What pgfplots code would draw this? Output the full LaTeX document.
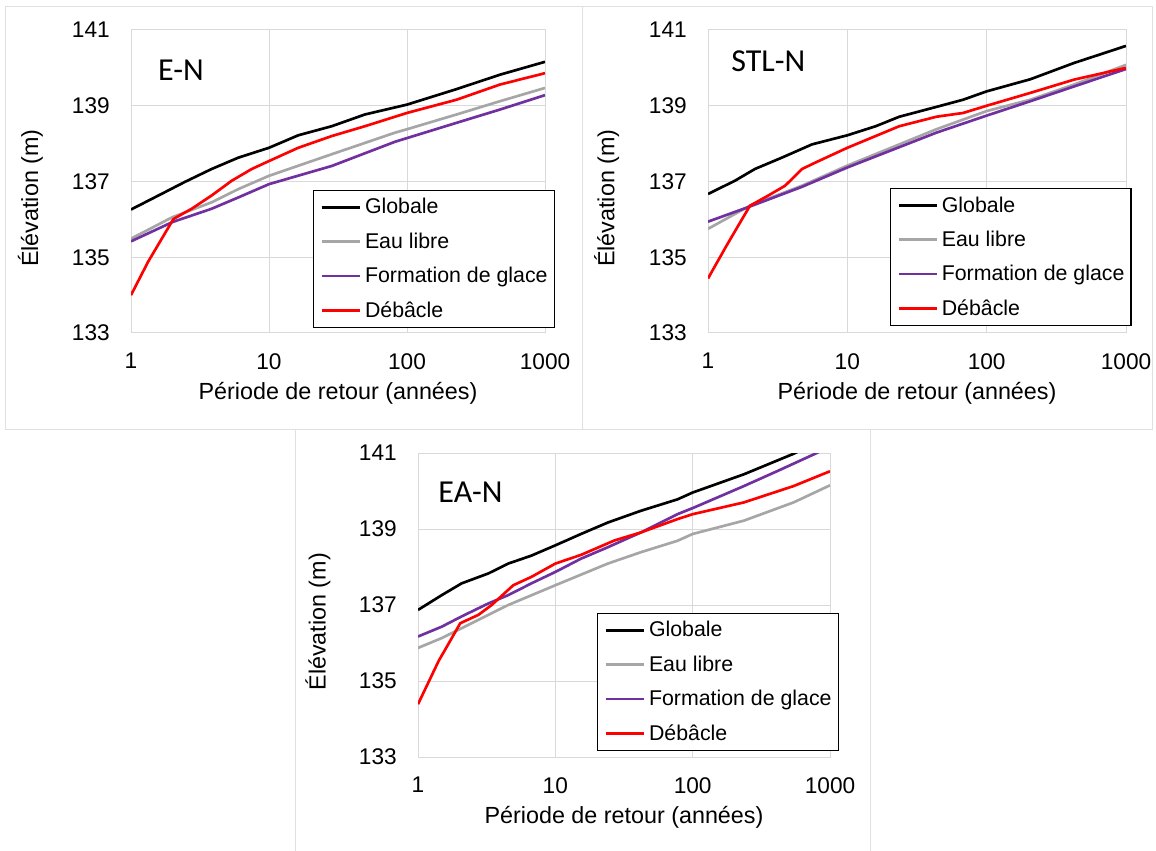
\documentclass[border=0pt]{standalone}
\usepackage{fontspec}
\setmainfont{Liberation Sans}
\newfontfamily\calibri{Carlito}
\usepackage{pgfplots}
\pgfplotsset{compat=1.18}
\definecolor{eaugray}{HTML}{A6A6A6}
\definecolor{glacepurple}{HTML}{7030A0}
\definecolor{gridgray}{HTML}{D9D9D9}
\definecolor{framegray}{HTML}{E0E0E0}

\pgfplotsset{
    scale only axis,
    xmin=1, xmax=1000, ymin=133, ymax=141,
    xtick={1,10,100,1000}, xticklabels={1,10,100,1000},
    ytick={133,135,137,139,141}, yticklabels={133,135,137,139,141},
    minor tick num=0,
    major tick length=0pt, minor tick length=0pt,
    grid=major,
    major grid style={gridgray, line width=0.75pt},
    axis line style={gridgray, line width=0.75pt},
    ticklabel style={font=\fontsize{17}{20}\selectfont, inner sep=0pt},
    /pgf/number format/assume math mode=true,
    yticklabel style={xshift=-15.75pt},
    xticklabel style={yshift=-15pt},
    xlabel={Période de retour (années)},
    ylabel={Élévation (m)},
    label style={font=\fontsize{17.5}{20}\selectfont},
    xlabel style={at={(rel axis cs:0.5,0)}, anchor=base, yshift=-50pt},
    ylabel style={at={(rel axis cs:-0.212,0.445)}, anchor=south, inner sep=0pt},
    legend style={anchor=north west, draw=black, line width=1pt,
      font=\fontsize{16}{19}\selectfont,
      inner xsep=5pt, inner ysep=3.9pt, row sep=8.7pt, column sep=2.5pt,
      nodes={inner xsep=0pt, inner ysep=2pt, text depth=0.15em},
      cells={anchor=west}},
    legend image code/.code={\draw[#1, line width=2pt] (0pt,0pt) -- (29pt,0pt);},
    every axis plot/.append style={line width=2pt, line join=round},
}

\begin{document}
\begin{tikzpicture}
\useasboundingbox (0,0) rectangle (867pt,637.5pt);
% panel frames
\draw[framegray, line width=0.75pt] (3.75pt,315pt) rectangle (436.5pt,632.25pt);
\draw[framegray, line width=0.75pt] (436.5pt,315pt) rectangle (864pt,632.25pt);
\draw[framegray, line width=0.75pt] (221.25pt,-1pt) rectangle (652.5pt,315pt);

% ---------- E-N ----------
\begin{axis}[xmode=log, at={(98.25pt,387.75pt)}, anchor=south west,
  width=310.5pt, height=227.25pt,
  legend style={at={(rel axis cs:0.4396,0.472)}}]
\addplot[black] coordinates {(1,136.26) (1.58,136.63) (2.46,136.99) (3.84,137.33) (6,137.63) (10,137.89) (16.3,138.22) (28.5,138.46) (49.6,138.77) (100,139.03) (229,139.44) (472,139.82) (1000,140.16)};
\addlegendentry{Globale}
\addplot[eaugray] coordinates {(1,135.49) (2,136.06) (3.84,136.45) (6,136.80) (10,137.15) (28.5,137.72) (82,138.29) (100,138.38) (229,138.77) (472,139.12) (1000,139.47)};
\addlegendentry{Eau libre}
\addplot[glacepurple] coordinates {(1,135.42) (2,135.93) (3.84,136.28) (6,136.58) (10,136.93) (28.5,137.41) (82,138.05) (229,138.55) (472,138.90) (1000,139.28)};
\addlegendentry{Formation de glace}
\addplot[red] coordinates {(1,134.00) (1.33,134.88) (2.03,136.01) (2.75,136.28) (3.84,136.63) (5.37,137.02) (7.5,137.33) (10,137.54) (16.3,137.89) (28.5,138.20) (49.6,138.46) (100,138.81) (229,139.16) (472,139.56) (1000,139.86)};
\addlegendentry{Débâcle}
\node[anchor=west, inner sep=0pt, font=\calibri\fontsize{24}{28}\selectfont] at (rel axis cs:0.065,0.868) {E-N};
\end{axis}

% ---------- STL-N ----------
\begin{axis}[xmode=log, at={(531pt,387.75pt)}, anchor=south west,
  width=313.5pt, height=227.25pt,
  legend style={at={(rel axis cs:0.435,0.4785)}}]
\addplot[black] coordinates {(1,136.67) (1.56,137.02) (2.17,137.33) (3.39,137.63) (5.58,137.98) (10,138.22) (16,138.46) (23.6,138.71) (43.6,138.97) (67.9,139.16) (100,139.38) (206,139.70) (424,140.13) (1000,140.58)};
\addlegendentry{Globale}
\addplot[eaugray] coordinates {(1,135.75) (2,136.36) (4.73,136.89) (10,137.42) (43.6,138.38) (100,138.86) (206,139.16) (424,139.56) (1000,140.08)};
\addlegendentry{Eau libre}
\addplot[glacepurple] coordinates {(1,135.94) (2,136.34) (4.73,136.86) (10,137.37) (43.6,138.29) (100,138.74) (206,139.12) (424,139.51) (1000,139.97)};
\addlegendentry{Formation de glace}
\addplot[red] coordinates {(1,134.44) (1.36,135.31) (2,136.36) (2.71,136.63) (3.58,136.89) (4.73,137.33) (5.9,137.50) (10,137.89) (23.6,138.46) (43.6,138.71) (67.9,138.81) (100,139.00) (206,139.34) (424,139.69) (1000,140.00)};
\addlegendentry{Débâcle}
\node[anchor=west, inner sep=0pt, font=\calibri\fontsize{24}{28}\selectfont] at (rel axis cs:0.055,0.898) {STL-N};
\end{axis}

% ---------- EA-N ----------
\begin{axis}[xmode=log, at={(313.5pt,69.75pt)}, anchor=south west,
  width=309pt, height=228pt,
  legend style={at={(rel axis cs:0.4345,0.4737)}}]
\addplot[black] coordinates {(1,136.87) (1.49,137.26) (2.08,137.57) (3.25,137.83) (4.54,138.09) (6.7,138.30) (10,138.57) (15.4,138.87) (24.1,139.17) (42,139.48) (77.5,139.78) (100,139.96) (236,140.44) (543,140.98) (1000,141.45)};
\addlegendentry{Globale}
\addplot[eaugray] coordinates {(1,135.87) (1.49,136.13) (2.08,136.39) (3.25,136.74) (4.54,137.00) (10,137.52) (24.1,138.09) (42,138.39) (77.5,138.69) (100,138.87) (236,139.22) (543,139.70) (1000,140.15)};
\addlegendentry{Eau libre}
\addplot[glacepurple] coordinates {(1,136.17) (1.49,136.43) (2.08,136.70) (3.25,137.04) (4.54,137.26) (6.7,137.57) (10,137.87) (15.4,138.22) (24.1,138.52) (42,138.91) (77.5,139.39) (100,139.55) (236,140.13) (411,140.52) (801,141.00) (1000,141.20)};
\addlegendentry{Formation de glace}
\addplot[red] coordinates {(1,134.39) (1.41,135.52) (2.03,136.52) (2.75,136.74) (3.44,137.00) (4.94,137.52) (6.7,137.74) (10,138.09) (15.4,138.32) (27,138.70) (42,138.91) (77.5,139.26) (100,139.39) (236,139.70) (543,140.13) (1000,140.52)};
\addlegendentry{Débâcle}
\node[anchor=west, inner sep=0pt, font=\calibri\fontsize{24}{28}\selectfont] at (rel axis cs:0.049,0.872) {EA-N};
\end{axis}
\end{tikzpicture}
\end{document}
